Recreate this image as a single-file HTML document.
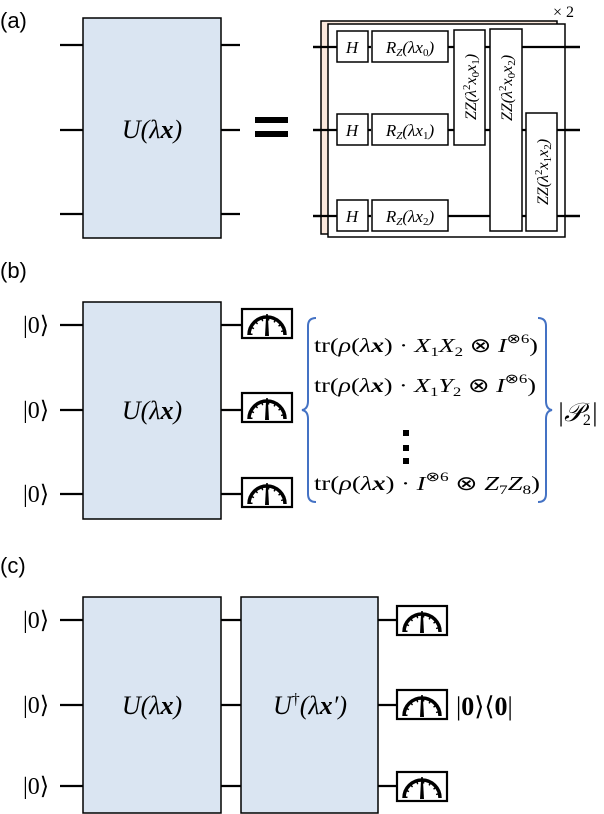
<!DOCTYPE html>
<html><head><style>body{margin:0;background:#fff}svg{display:block}
text{font-family:"Liberation Serif",serif}
.lab{font-family:"Liberation Sans",sans-serif;font-size:22px}
</style></head><body>
<svg width="604" height="814" viewBox="0 0 604 814" xmlns="http://www.w3.org/2000/svg">
<defs>
<g id="m">
<rect x="0" y="0" width="50" height="29" fill="#fff" stroke="#000" stroke-width="2.2"/>
<path d="M7,26 A18,18 0 0 1 43,26" fill="none" stroke="#000" stroke-width="3.5"/>
<path d="M9,26 A16,16 0 0 1 41,26" fill="none" stroke="#000" stroke-width="3" stroke-dasharray="1.5 5"/>
<polygon points="23,27 27,27 25.8,5 24.2,5" fill="#000"/>
</g>
</defs>
<g stroke="#000" stroke-width="2.2" fill="none">
<path d="M60,45H240M60,130H240M60,214H240"/>
<path d="M313,47H580M313,130H580M313,216H580"/>
<path d="M60,325H242M60,410H242M60,494H242"/>
<path d="M60,620H397M60,705H397M60,786H397"/>
</g>
<text x="0" y="28" class="lab">(a)</text>
<rect x="83" y="18" width="138" height="220" fill="#dae5f2" stroke="#000" stroke-width="1.5"/>
<text x="152" y="138" font-size="26" text-anchor="middle" font-style="italic">U(λ<tspan font-weight="bold">x</tspan>)</text>
<rect x="255" y="117" width="33" height="6" fill="#000"/>
<rect x="255" y="131" width="33" height="6" fill="#000"/>
<rect x="321" y="21" width="236" height="213" fill="#fbe8dc" stroke="#000" stroke-width="1.5"/>
<rect x="328" y="24" width="237" height="213" fill="#fff" stroke="#000" stroke-width="1.5"/>
<g stroke="#000" stroke-width="2.2"><path d="M313,47H337M313,130H337M313,216H337M448,216H490M368,47h3M368,130h3M368,216h3M448,47h6M448,130h6M485,47h5M485,130h5M522,47h43M522,130h4M557,130h8M522,216h4M557,216h8M565,47h15M565,130h15M565,216h15"/></g>
<g fill="#fff" stroke="#000" stroke-width="1.5">
<rect x="337" y="31" width="31" height="31"/><rect x="337" y="114" width="31" height="31"/><rect x="337" y="200" width="31" height="31"/>
<rect x="372" y="31" width="76" height="31"/><rect x="372" y="114" width="76" height="31"/><rect x="372" y="200" width="76" height="31"/>
<rect x="454" y="30" width="31" height="115"/><rect x="490" y="29" width="32" height="202"/><rect x="526" y="113" width="31" height="118"/>
</g>
<g font-size="17" font-style="italic">
<text x="352" y="53" text-anchor="middle">H</text><text x="352" y="136" text-anchor="middle">H</text><text x="352" y="222" text-anchor="middle">H</text>
<text x="410" y="53" text-anchor="middle">R<tspan font-size="11" dy="3">Z</tspan><tspan dy="-3">(λx</tspan><tspan font-size="11" dy="3" font-style="normal">0</tspan><tspan dy="-3">)</tspan></text>
<text x="410" y="136" text-anchor="middle">R<tspan font-size="11" dy="3">Z</tspan><tspan dy="-3">(λx</tspan><tspan font-size="11" dy="3" font-style="normal">1</tspan><tspan dy="-3">)</tspan></text>
<text x="410" y="222" text-anchor="middle">R<tspan font-size="11" dy="3">Z</tspan><tspan dy="-3">(λx</tspan><tspan font-size="11" dy="3" font-style="normal">2</tspan><tspan dy="-3">)</tspan></text>
</g>
<g font-size="16" font-style="italic">
<text transform="translate(476,87) rotate(-90)" text-anchor="middle">ZZ(λ<tspan font-size="11" dy="-6" font-style="normal">2</tspan><tspan dy="6">x</tspan><tspan font-size="11" dy="3" font-style="normal">0</tspan><tspan dy="-3">x</tspan><tspan font-size="11" dy="3" font-style="normal">1</tspan><tspan dy="-3">)</tspan></text>
<text transform="translate(512,88) rotate(-90)" text-anchor="middle">ZZ(λ<tspan font-size="11" dy="-6" font-style="normal">2</tspan><tspan dy="6">x</tspan><tspan font-size="11" dy="3" font-style="normal">0</tspan><tspan dy="-3">x</tspan><tspan font-size="11" dy="3" font-style="normal">2</tspan><tspan dy="-3">)</tspan></text>
<text transform="translate(548,172) rotate(-90)" text-anchor="middle">ZZ(λ<tspan font-size="11" dy="-6" font-style="normal">2</tspan><tspan dy="6">x</tspan><tspan font-size="11" dy="3" font-style="normal">1</tspan><tspan dy="-3">x</tspan><tspan font-size="11" dy="3" font-style="normal">2</tspan><tspan dy="-3">)</tspan></text>
</g>
<text x="553" y="17" font-size="16" font-family="Liberation Sans,sans-serif">× 2</text>
<text x="0" y="278" class="lab">(b)</text>
<g font-size="24"><text x="23" y="333">|0⟩</text><text x="23" y="418">|0⟩</text><text x="23" y="502">|0⟩</text></g>
<rect x="83" y="302" width="138" height="217" fill="#dae5f2" stroke="#000" stroke-width="1.5"/>
<text x="152" y="419" font-size="26" text-anchor="middle" font-style="italic">U(λ<tspan font-weight="bold">x</tspan>)</text>
<use href="#m" x="242" y="309"/><use href="#m" x="242" y="393"/><use href="#m" x="242" y="478"/>
<path d="M316,318 q-8,0 -8,8 v75 q0,8 -6,9 q6,1 6,9 v75 q0,8 8,8" fill="none" stroke="#4472c4" stroke-width="2"/>
<path d="M538,318 q8,0 8,8 v75 q0,8 6,9 q-6,1 -6,9 v75 q0,8 -8,8" fill="none" stroke="#4472c4" stroke-width="2"/>
<g font-size="20">
<text x="314" y="352" textLength="224" lengthAdjust="spacingAndGlyphs">tr(<tspan font-style="italic">ρ</tspan>(<tspan font-style="italic">λ</tspan><tspan font-weight="bold" font-style="italic">x</tspan>) · <tspan font-style="italic">X</tspan><tspan font-size="13" dy="4">1</tspan><tspan dy="-4" font-style="italic">X</tspan><tspan font-size="13" dy="4">2</tspan><tspan dy="-4"> ⊗ </tspan><tspan font-style="italic">I</tspan><tspan font-size="13" dy="-9">⊗6</tspan><tspan dy="9">)</tspan></text>
<text x="314" y="392" textLength="222" lengthAdjust="spacingAndGlyphs">tr(<tspan font-style="italic">ρ</tspan>(<tspan font-style="italic">λ</tspan><tspan font-weight="bold" font-style="italic">x</tspan>) · <tspan font-style="italic">X</tspan><tspan font-size="13" dy="4">1</tspan><tspan dy="-4" font-style="italic">Y</tspan><tspan font-size="13" dy="4">2</tspan><tspan dy="-4"> ⊗ </tspan><tspan font-style="italic">I</tspan><tspan font-size="13" dy="-9">⊗6</tspan><tspan dy="9">)</tspan></text>
<text x="314" y="490" textLength="226" lengthAdjust="spacingAndGlyphs">tr(<tspan font-style="italic">ρ</tspan>(<tspan font-style="italic">λ</tspan><tspan font-weight="bold" font-style="italic">x</tspan>) · <tspan font-style="italic">I</tspan><tspan font-size="13" dy="-9">⊗6</tspan><tspan dy="9"> ⊗ </tspan><tspan font-style="italic">Z</tspan><tspan font-size="13" dy="4">7</tspan><tspan dy="-4" font-style="italic">Z</tspan><tspan font-size="13" dy="4">8</tspan><tspan dy="-4">)</tspan></text>
</g>
<rect x="403" y="430" width="6" height="6"/><rect x="403" y="445" width="6" height="6"/><rect x="403" y="458" width="6" height="6"/>
<text x="557" y="421" font-size="26" font-style="italic">|𝒫<tspan font-size="16" font-style="normal" dy="4">2</tspan><tspan dy="-4">|</tspan></text>
<text x="0" y="573" class="lab">(c)</text>
<g font-size="24"><text x="23" y="628">|0⟩</text><text x="23" y="713">|0⟩</text><text x="23" y="794">|0⟩</text></g>
<rect x="83" y="597" width="138" height="216" fill="#dae5f2" stroke="#000" stroke-width="1.5"/>
<text x="152" y="714" font-size="26" text-anchor="middle" font-style="italic">U(λ<tspan font-weight="bold">x</tspan>)</text>
<rect x="241" y="597" width="137" height="216" fill="#dae5f2" stroke="#000" stroke-width="1.5"/>
<text x="310" y="714" font-size="26" text-anchor="middle" font-style="italic">U<tspan font-size="16" dy="-10" font-style="normal">†</tspan><tspan dy="10">(λ</tspan><tspan font-weight="bold">x</tspan>′)</text>
<use href="#m" x="397" y="606"/><use href="#m" x="397" y="690"/><use href="#m" x="397" y="772"/>
<text x="456" y="715" font-size="26" font-family="Liberation Sans,sans-serif">|<tspan font-weight="bold">0</tspan>⟩⟨<tspan font-weight="bold">0</tspan>|</text>
</svg>
</body></html>
